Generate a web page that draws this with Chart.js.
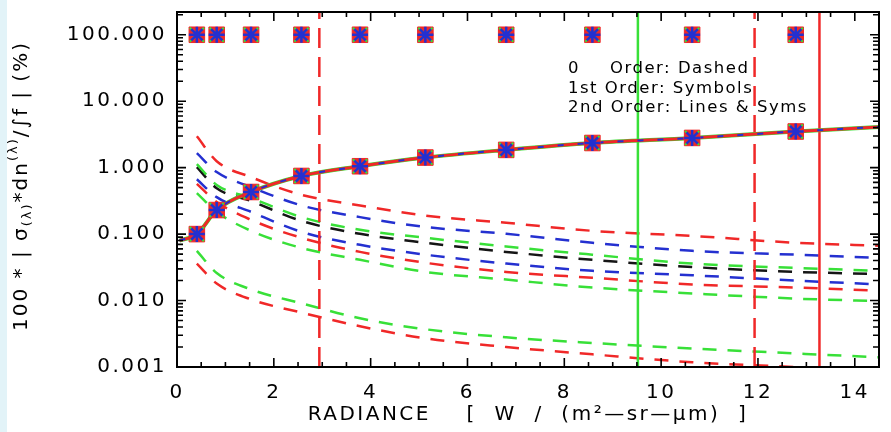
<!DOCTYPE html>
<html>
<head>
<meta charset="utf-8">
<script src="https://cdn.jsdelivr.net/npm/chart.js@4.4.1/dist/chart.umd.min.js"></script>
<style>
  html, body { margin: 0; padding: 0; }
  body { background: linear-gradient(to right, #e2f3f8 0, #e2f3f8 7px, #fff 7px); }
  canvas { display: block; }
</style>
</head>
<body>
<canvas id="chart" width="891" height="432"></canvas>
<script>
// radiance grid of the sampled points
const radiance = [0.41, 0.82, 1.53, 2.57, 3.78, 5.13, 6.8, 8.58, 10.64, 12.78];
const zeroOrderSym = [100, 100, 100, 100, 100, 100, 100, 100, 100, 100];
const firstOrderSym = [0.1, 0.23, 0.43, 0.75, 1.05, 1.42, 1.85, 2.35, 2.8, 3.5];

// 2nd order, solid line
const lineX = [0.05, 0.41, 0.82, 1.53, 2.57, 3.78, 5.13, 6.8, 8.58, 10.64, 12.78, 14.5];
const secondOrder = [0.08, 0.1, 0.23, 0.43, 0.75, 1.05, 1.42, 1.85, 2.35, 2.8, 3.5, 4.1];

// 0th order, dashed curves
const dashX = [0.41, 0.82, 1.53, 2.57, 3.78, 5.13, 6.8, 8.58, 10.64, 12.78, 14.5];
const red1   = [2.96, 1.25, 0.72, 0.39, 0.27, 0.19, 0.148, 0.112, 0.094, 0.074, 0.067];
const blue1  = [1.65, 0.86, 0.51, 0.27, 0.18, 0.128, 0.101, 0.074, 0.056, 0.049, 0.044];
const green1 = [1.13, 0.55, 0.35, 0.18, 0.116, 0.088, 0.065, 0.049, 0.036, 0.031, 0.028];
const black1 = [1.02, 0.49, 0.315, 0.158, 0.101, 0.074, 0.054, 0.041, 0.032, 0.027, 0.025];
const blue2  = [0.67, 0.36, 0.216, 0.108, 0.069, 0.049, 0.036, 0.028, 0.024, 0.020, 0.0175];
const red2   = [0.57, 0.305, 0.164, 0.088, 0.054, 0.037, 0.027, 0.022, 0.0175, 0.0157, 0.0141];
const green2 = [0.415, 0.216, 0.112, 0.062, 0.041, 0.027, 0.0207, 0.0157, 0.0128, 0.0107, 0.0098];
const green3 = [0.056, 0.026, 0.0147, 0.0091, 0.0054, 0.0037, 0.0028, 0.0023, 0.0019, 0.0016, 0.0014];
const red3   = [0.036, 0.018, 0.0104, 0.0066, 0.0041, 0.0027, 0.0020, 0.00155, 0.00118, 0.0010, 0.00089];

// vertical reference lines
const markerX = [2.94, 9.52, 11.93, 13.27];

const xTicks = [0, 2, 4, 6, 8, 10, 12, 14];
const yTicks = [0.001, 0.01, 0.1, 1, 10, 100];
const xRange = [0, 14.5];
const yRange = [0.001, 220];

const RED = '#f02828', GREEN = '#38e038', BLUE = '#2430d0', BLACK = '#151515';
const FONT = 'DejaVu Sans';
Chart.defaults.font.family = FONT;

const pts = (xs, ys) => xs.map((x, i) => ({ x, y: ys[i] }));
const vline = x => [{ x, y: yRange[0] }, { x, y: yRange[1] }];

const symbols = (ys) => [
  { data: pts(radiance, ys), showLine: false, pointStyle: 'star', pointRadius: 8, borderColor: BLUE, borderWidth: 2.5 },
  { data: pts(radiance, ys), showLine: false, pointStyle: 'crossRot', pointRadius: 10, borderColor: GREEN, borderWidth: 2 },
  { data: pts(radiance, ys), showLine: false, pointStyle: 'rect', pointRadius: 11, backgroundColor: RED, borderColor: RED, borderWidth: 1 },
];

const dashed = (ys, color) => ({
  data: pts(dashX, ys), borderColor: color, borderWidth: 2.5, borderDash: [14, 11],
  pointRadius: 0, cubicInterpolationMode: 'monotone',
});

const datasets = [
  ...symbols(zeroOrderSym),
  ...symbols(firstOrderSym),
  { data: pts(lineX, secondOrder), borderColor: BLUE, borderWidth: 2, borderDash: [6, 14], pointRadius: 0, cubicInterpolationMode: 'monotone' },
  { data: pts(lineX, secondOrder), borderColor: RED, borderWidth: 3, pointRadius: 0, cubicInterpolationMode: 'monotone' },
  { data: pts(lineX, secondOrder), borderColor: GREEN, borderWidth: 4, pointRadius: 0, cubicInterpolationMode: 'monotone' },
  { data: vline(markerX[0]), borderColor: RED, borderWidth: 2.5, borderDash: [20, 9], pointRadius: 0 },
  { data: vline(markerX[1]), borderColor: GREEN, borderWidth: 2.5, pointRadius: 0 },
  { data: vline(markerX[2]), borderColor: RED, borderWidth: 2.5, borderDash: [20, 9], pointRadius: 0 },
  { data: vline(markerX[3]), borderColor: RED, borderWidth: 2.5, pointRadius: 0 },
  dashed(red1, RED), dashed(blue1, BLUE), dashed(green1, GREEN), dashed(black1, BLACK),
  dashed(blue2, BLUE), dashed(red2, RED), dashed(green2, GREEN),
  dashed(green3, GREEN), dashed(red3, RED),
];

// rotated y title with sub/superscripts
function drawYTitle(ctx, cx, cy) {
  const parts = [
    { t: '100 * | σ', size: 20, dy: 0 },
    { t: '(λ)', size: 13, dy: 6 },
    { t: '*dn', size: 20, dy: 0 },
    { t: '(λ)', size: 13, dy: -8 },
    { t: '/∫f | (%)', size: 20, dy: 0 },
  ];
  ctx.save();
  ctx.translate(cx, cy);
  ctx.rotate(-Math.PI / 2);
  ctx.fillStyle = '#000';
  ctx.textBaseline = 'middle';
  ctx.textAlign = 'left';
  let total = 0;
  for (const p of parts) { ctx.font = p.size + 'px ' + FONT; p.w = ctx.measureText(p.t).width; total += p.w; }
  let x = -total / 2;
  for (const p of parts) { ctx.font = p.size + 'px ' + FONT; ctx.fillText(p.t, x, p.dy); x += p.w; }
  ctx.restore();
}

const frame = {
  id: 'frame',
  beforeDraw(chart) { chart.ctx.letterSpacing = '2.5px'; },
  afterDraw(chart) {
    const { ctx, chartArea: a, scales: { x, y } } = chart;
    ctx.save();
    ctx.strokeStyle = '#000';
    ctx.lineWidth = 2;
    ctx.strokeRect(a.left, a.top, a.right - a.left, a.bottom - a.top);

    // inward ticks on all four sides
    ctx.lineWidth = 1.6;
    ctx.beginPath();
    for (let v = xRange[0]; v <= xRange[1]; v += 0.5) {
      const px = x.getPixelForValue(v);
      const len = v % 2 === 0 ? 9 : 5;
      ctx.moveTo(px, a.bottom); ctx.lineTo(px, a.bottom - len);
      ctx.moveTo(px, a.top); ctx.lineTo(px, a.top + len);
    }
    for (const d of yTicks) {
      for (let k = 1; k < 10; k++) {
        const v = d * k;
        if (v > yRange[1]) break;
        const py = y.getPixelForValue(v);
        const len = k === 1 ? 9 : 6;
        ctx.moveTo(a.left, py); ctx.lineTo(a.left + len, py);
        ctx.moveTo(a.right, py); ctx.lineTo(a.right - len, py);
      }
    }
    ctx.stroke();

    // order key
    ctx.fillStyle = '#000';
    ctx.textBaseline = 'middle';
    ctx.letterSpacing = '1.5px';
    ctx.font = '16.5px ' + FONT;
    ctx.fillText('0', 568, 69);
    ctx.fillText('Order: Dashed', 610, 69);
    ctx.fillText('1st Order: Symbols', 568, 89);
    ctx.fillText('2nd Order: Lines & Syms', 568, 108);

    ctx.letterSpacing = '2px';
    drawYTitle(ctx, 22, 186);
    ctx.restore();
    ctx.letterSpacing = '0px';
  }
};

new Chart(document.getElementById('chart'), {
  type: 'line',
  data: { datasets },
  plugins: [frame],
  options: {
    responsive: false,
    animation: false,
    layout: { padding: { top: 10, right: 4, left: 0, bottom: 0 } },
    plugins: { legend: { display: false }, tooltip: { enabled: false } },
    scales: {
      x: {
        type: 'linear', min: xRange[0], max: xRange[1],
        afterBuildTicks: s => { s.ticks = xTicks.map(v => ({ value: v })); },
        afterFit: s => { s.height = 65; s.paddingLeft = 0; s.paddingRight = 0; },
        grid: { display: false, drawTicks: false },
        border: { display: false },
        ticks: { color: '#000', font: { size: 20 }, padding: 14, maxRotation: 0, autoSkip: false },
        title: { display: true, text: 'RADIANCE    [  W  /  (m²—sr—μm)  ]', color: '#000', font: { size: 20 }, padding: { top: 0, bottom: 5 } },
      },
      y: {
        type: 'logarithmic', min: yRange[0], max: yRange[1],
        afterBuildTicks: s => { s.ticks = yTicks.map(v => ({ value: v })); },
        afterFit: s => { s.width = 177; s.paddingTop = 0; s.paddingBottom = 0; },
        grid: { display: false, drawTicks: false },
        border: { display: false },
        ticks: { color: '#000', font: { size: 20 }, padding: 10, autoSkip: false, callback: v => Number(v).toFixed(3) },
      },
    },
  },
});
</script>
</body>
</html>
